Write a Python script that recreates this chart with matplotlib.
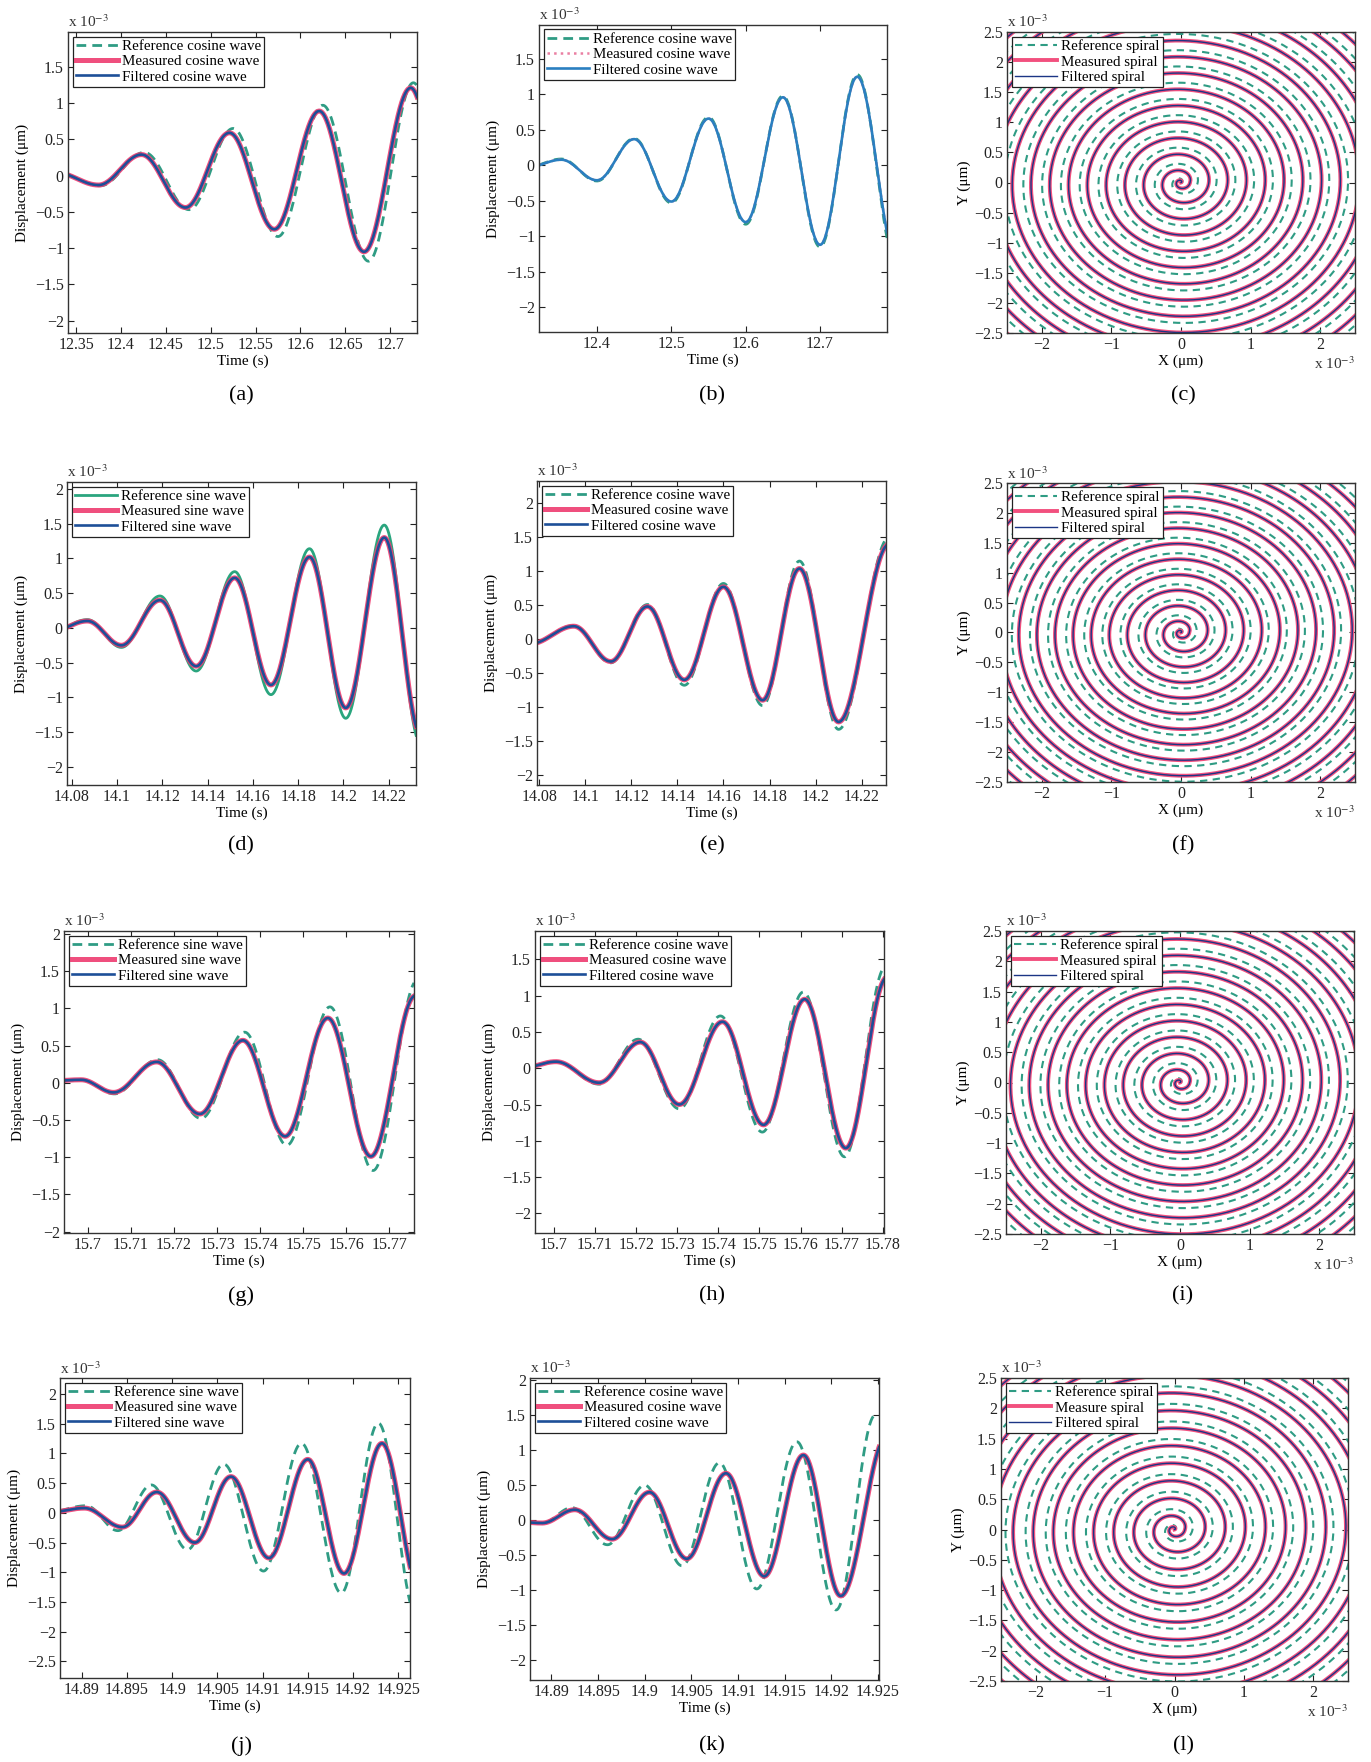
import numpy as np
import matplotlib
matplotlib.use('Agg')
import matplotlib.pyplot as plt
from matplotlib.ticker import MultipleLocator, FuncFormatter

plt.rcParams['font.family'] = ['Liberation Serif', 'DejaVu Serif']
plt.rcParams['mathtext.fontset'] = 'stix'

GREEN = '#2f9c84'
PINK = '#ee3c70'
BLUE = '#1d4f98'

# extrema of each wave (time in s, displacement in 1e-3 um)
a_t_ref = [12.328, 12.377, 12.426, 12.476, 12.525, 12.575, 12.625, 12.676, 12.726, 12.776]
a_v_ref = [0.05, -0.14, 0.32, -0.47, 0.65, -0.84, 0.97, -1.18, 1.28, -1.45]
a_t_filt = [12.328, 12.375, 12.423, 12.472, 12.521, 12.571, 12.621, 12.671, 12.723, 12.773]
a_v_filt = [0.04, -0.13, 0.29, -0.44, 0.59, -0.74, 0.89, -1.05, 1.21, -1.37]

b_t = [12.305, 12.352, 12.400, 12.450, 12.500, 12.550, 12.600, 12.650, 12.700, 12.750, 12.803]
b_v_ref = [-0.03, 0.09, -0.22, 0.38, -0.53, 0.68, -0.83, 0.98, -1.15, 1.28, -1.40]
b_v_filt = [-0.03, 0.08, -0.21, 0.37, -0.51, 0.66, -0.80, 0.96, -1.12, 1.25, -1.30]

d_t = [14.071, 14.087, 14.102, 14.119, 14.135, 14.152, 14.168, 14.185, 14.201, 14.218, 14.234]
d_v_ref = [-0.05, 0.12, -0.28, 0.46, -0.62, 0.81, -0.96, 1.14, -1.30, 1.48, -1.66]
d_v_filt = [-0.05, 0.10, -0.25, 0.40, -0.55, 0.72, -0.82, 1.02, -1.15, 1.30, -1.52]

e_t = [14.076, 14.095, 14.111, 14.127, 14.143, 14.160, 14.177, 14.193, 14.210, 14.232, 14.249]
e_v_ref = [-0.07, 0.20, -0.35, 0.51, -0.68, 0.82, -0.98, 1.15, -1.33, 1.50, -1.60]
e_v_filt = [-0.07, 0.19, -0.33, 0.48, -0.60, 0.77, -0.90, 1.04, -1.22, 1.40, -1.50]

g_t_ref = [15.6900, 15.6985, 15.7062, 15.7162, 15.7263, 15.7364, 15.7462, 15.7562, 15.7662, 15.7765, 15.786]
g_v_ref = [0.0, 0.04, -0.15, 0.31, -0.48, 0.68, -0.84, 1.02, -1.18, 1.38, -1.50]
g_t_filt = [15.6900, 15.6985, 15.7060, 15.7160, 15.7260, 15.7360, 15.7458, 15.7557, 15.7657, 15.7760, 15.786]
g_v_filt = [0.02, 0.04, -0.13, 0.28, -0.42, 0.57, -0.72, 0.87, -0.99, 1.17, -1.30]

h_t_ref = [15.6920, 15.7005, 15.7110, 15.7205, 15.7305, 15.7405, 15.7507, 15.7607, 15.7707, 15.7807]
h_v_ref = [0.0, 0.09, -0.22, 0.40, -0.56, 0.72, -0.88, 1.05, -1.22, 1.40]
h_t_filt = [15.6920, 15.7005, 15.7110, 15.7210, 15.7305, 15.7410, 15.7510, 15.7610, 15.7710, 15.7810]
h_v_filt = [0.0, 0.09, -0.20, 0.36, -0.50, 0.64, -0.78, 0.95, -1.10, 1.25]

j_t_ref = [14.8860, 14.8905, 14.8940, 14.8977, 14.9017, 14.9057, 14.9101, 14.9143, 14.9187, 14.9228, 14.9270]
j_v_ref = [0.0, 0.12, -0.30, 0.47, -0.62, 0.82, -0.98, 1.17, -1.35, 1.51, -1.72]
j_t_filt = [14.8860, 14.8903, 14.8945, 14.8983, 14.9025, 14.9065, 14.9107, 14.9150, 14.9190, 14.9232, 14.9274]
j_v_filt = [0.0, 0.08, -0.24, 0.35, -0.50, 0.61, -0.76, 0.90, -1.02, 1.17, -1.30]

k_t_ref = [14.8860, 14.8890, 14.8922, 14.8960, 14.9000, 14.9040, 14.9080, 14.9120, 14.9163, 14.9205, 14.9247]
k_v_ref = [-0.02, -0.04, 0.18, -0.35, 0.50, -0.65, 0.82, -0.98, 1.12, -1.28, 1.50]
k_t_filt = [14.8860, 14.8890, 14.8925, 14.8965, 14.9005, 14.9045, 14.9087, 14.9128, 14.9170, 14.9210, 14.9260]
k_v_filt = [-0.02, -0.04, 0.15, -0.27, 0.40, -0.55, 0.67, -0.80, 0.93, -1.08, 1.22]

# spiral radius at every full turn (1e-3 um)
c_ref_r = [0.00, 0.24, 0.51, 0.78, 1.05, 1.32, 1.59, 1.86, 2.13, 2.40, 2.67, 2.94, 3.21, 3.48, 3.75]
c_filt_r = [0.00, 0.13, 0.40, 0.67, 0.94, 1.21, 1.48, 1.75, 2.02, 2.29, 2.56, 2.83, 3.10, 3.37, 3.64]
f_ref_r = [0.00, 0.22, 0.48, 0.74, 1.00, 1.26, 1.52, 1.78, 2.04, 2.30, 2.56, 2.82, 3.08, 3.34, 3.60]
f_filt_r = [0.00, 0.12, 0.38, 0.64, 0.90, 1.16, 1.42, 1.68, 1.94, 2.20, 2.46, 2.72, 2.98, 3.24, 3.50]
i_ref_r = [0.00, 0.25, 0.52, 0.79, 1.06, 1.33, 1.60, 1.87, 2.14, 2.41, 2.68, 2.95, 3.22, 3.49, 3.76]
i_filt_r = [0.00, 0.14, 0.41, 0.68, 0.95, 1.22, 1.49, 1.76, 2.03, 2.30, 2.57, 2.84, 3.11, 3.38, 3.65]
l_ref_r = [0.00, 0.26, 0.55, 0.84, 1.13, 1.42, 1.71, 2.00, 2.29, 2.58, 2.87, 3.16, 3.45, 3.74]
l_filt_r = [0.00, 0.15, 0.44, 0.73, 1.02, 1.31, 1.60, 1.89, 2.18, 2.47, 2.76, 3.05, 3.34, 3.63]

cos_names = ['Reference cosine wave', 'Measured cosine wave', 'Filtered cosine wave']
sin_names = ['Reference sine wave', 'Measured sine wave', 'Filtered sine wave']
spi_names = ['Reference spiral', 'Measured spiral', 'Filtered spiral']

W, H = 1371, 1762
fig = plt.figure(figsize=(W / 100, H / 100), dpi=100)


def box(l, t, r, b):
    return fig.add_axes([l / W, 1 - b / H, (r - l) / W, (b - t) / H])


def tick_fmt(v, pos):
    if abs(v) < 1e-9:
        return '0'
    return ('%g' % round(v, 4)).replace('-', '\u2212')


def half_cos(tk, vk, n=2500):
    # smooth half-cosine swing between consecutive extrema
    tk = np.asarray(tk)
    vk = np.asarray(vk)
    t = np.linspace(tk[0], tk[-1], n)
    i = np.clip(np.searchsorted(tk, t, side='right') - 1, 0, len(tk) - 2)
    s = (t - tk[i]) / (tk[i + 1] - tk[i])
    return t, vk[i] + (vk[i + 1] - vk[i]) * (1 - np.cos(np.pi * s)) / 2


def spiral_xy(radii, n=6000):
    turns = np.arange(len(radii)) * 2 * np.pi
    th = np.linspace(0, turns[-1], n)
    r = np.interp(th, turns, radii)
    return r * np.cos(th), r * np.sin(th)


def style(ax, xlim, ylim, xstep, ystep):
    ax.set_xlim(xlim)
    ax.set_ylim(ylim)
    ax.xaxis.set_major_locator(MultipleLocator(xstep))
    ax.yaxis.set_major_locator(MultipleLocator(ystep))
    ax.xaxis.set_major_formatter(FuncFormatter(tick_fmt))
    ax.yaxis.set_major_formatter(FuncFormatter(tick_fmt))
    ax.tick_params(direction='in', top=True, right=True, length=4, width=0.8,
                   labelsize=11.5, pad=3, colors='#222')
    for sp in ax.spines.values():
        sp.set_linewidth(1.0)
        sp.set_color('#333')
    ax.text(0.0, 1.005, r'x 10$^{-3}$', transform=ax.transAxes, ha='left', va='bottom',
            fontsize=11, color='#333')


def legend(ax, fs=10.8):
    leg = ax.legend(loc='upper left', fontsize=fs, fancybox=False, edgecolor='#222',
                    framealpha=1, borderpad=0.2, labelspacing=0.12, handlelength=2.8,
                    handletextpad=0.3, borderaxespad=0.3)
    leg.get_frame().set_linewidth(0.9)


def wave(ax, tr, vr, tf, vf, names, xlim, ylim, xstep, ystep,
         ref_dash=True, meas_dotted=False, filt_col=BLUE):
    t, v = half_cos(tr, vr)
    if ref_dash:
        ax.plot(t, v, color=GREEN, lw=2.0, ls='--', dashes=(3.5, 2.2), label=names[0])
    else:
        ax.plot(t, v, color='#2aa57e', lw=2.0, label=names[0])
    t, v = half_cos(tf, vf)
    if meas_dotted:
        ax.plot(t, v, color='#ea7fa2', lw=1.8, ls=':', label=names[1])
    else:
        ax.plot(t, v, color=PINK, lw=3.6, alpha=0.9, label=names[1])
    ax.plot(t, v, color=filt_col, lw=1.9, label=names[2])
    style(ax, xlim, ylim, xstep, ystep)
    ax.set_xlabel('Time (s)', fontsize=11, labelpad=1)
    ax.set_ylabel('Displacement (\u03bcm)', fontsize=11, labelpad=4)
    legend(ax)


def spiral(ax, ref_r, filt_r, names):
    x, y = spiral_xy(ref_r)
    ax.plot(x, y, color=GREEN, lw=1.5, ls='--', dashes=(3.5, 2.6), label=names[0])
    x, y = spiral_xy(filt_r)
    ax.plot(x, y, color='#f2507e', lw=2.8, label=names[1])
    ax.plot(x, y, color='#1b3585', lw=1.0, label=names[2])
    style(ax, (-2.5, 2.5), (-2.5, 2.5), 1, 0.5)
    ax.set_xlabel('X (\u03bcm)', fontsize=11, labelpad=1)
    ax.set_ylabel('Y (\u03bcm)', fontsize=11, labelpad=2)
    ax.text(1.0, -0.075, r'x 10$^{-3}$', transform=ax.transAxes, ha='right', va='top',
            fontsize=11, color='#333')
    legend(ax)


ax = box(68, 32, 417, 333)
wave(ax, a_t_ref, a_v_ref, a_t_filt, a_v_filt, cos_names, (12.341, 12.73), (-2.17, 1.98), 0.05, 0.5)
ax = box(539, 25, 887, 332)
wave(ax, b_t, b_v_ref, b_t, b_v_filt, cos_names, (12.322, 12.79), (-2.35, 1.98), 0.1, 0.5,
     meas_dotted=True, filt_col='#2a7fc0')
ax = box(1007, 32, 1355, 333)
spiral(ax, c_ref_r, c_filt_r, spi_names)

ax = box(67, 482, 416, 785)
wave(ax, d_t, d_v_ref, d_t, d_v_filt, sin_names, (14.078, 14.232), (-2.26, 2.1), 0.02, 0.5,
     ref_dash=False)
ax = box(537, 481, 886, 785)
wave(ax, e_t, e_v_ref, e_t, e_v_filt, cos_names, (14.079, 14.2306), (-2.15, 2.33), 0.02, 0.5)
ax = box(1007, 483, 1355, 782)
spiral(ax, f_ref_r, f_filt_r, spi_names)

ax = box(64, 931, 414, 1233)
wave(ax, g_t_ref, g_v_ref, g_t_filt, g_v_filt, sin_names, (15.6945, 15.7757), (-2.02, 2.04), 0.01, 0.5)
ax = box(535, 931, 884, 1233)
wave(ax, h_t_ref, h_v_ref, h_t_filt, h_v_filt, cos_names, (15.6954, 15.7803), (-2.27, 1.89), 0.01, 0.5)
ax = box(1006, 931, 1354, 1234)
spiral(ax, i_ref_r, i_filt_r, spi_names)

ax = box(60, 1378, 410, 1678)
wave(ax, j_t_ref, j_v_ref, j_t_filt, j_v_filt, sin_names, (14.8876, 14.9263), (-2.78, 2.27), 0.005, 0.5)
ax = box(530, 1378, 879, 1680)
wave(ax, k_t_ref, k_v_ref, k_t_filt, k_v_filt, cos_names, (14.8877, 14.9251), (-2.28, 2.03), 0.005, 0.5)
ax = box(1001, 1378, 1348, 1681)
spiral(ax, l_ref_r, l_filt_r, ['Reference spiral', 'Measure spiral', 'Filtered spiral'])

# panel captions
captions = ['(a)', '(b)', '(c)', '(d)', '(e)', '(f)', '(g)', '(h)', '(i)', '(j)', '(k)', '(l)']
cap_x = [241, 712, 1183] * 4
cap_y = [396, 396, 396, 846, 846, 846, 1296, 1296, 1296, 1746, 1746, 1746]
for c, x, y in zip(captions, cap_x, cap_y):
    fig.text(x / W, 1 - y / H, c, ha='center', va='center', fontsize=16)

fig.savefig('out.png', dpi=100, facecolor='white')
